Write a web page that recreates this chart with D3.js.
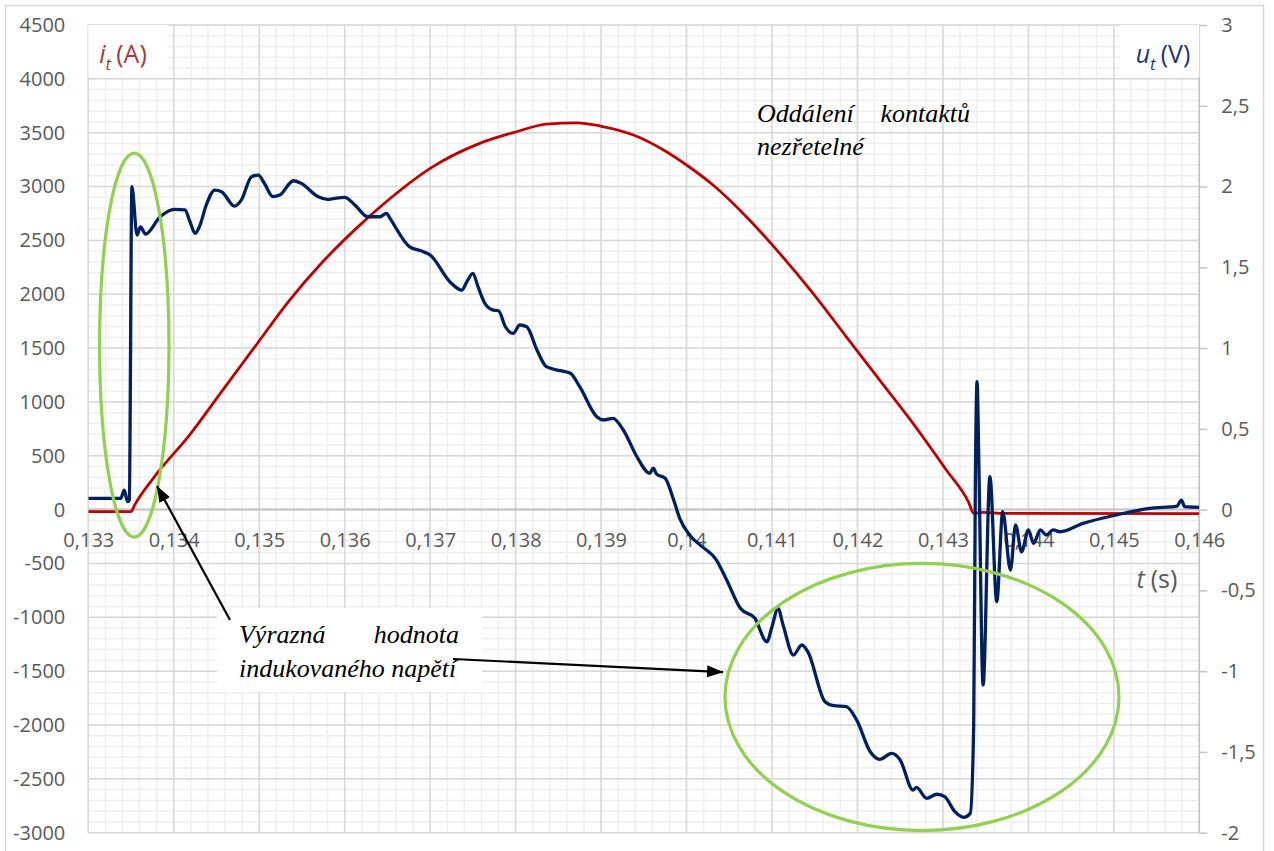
<!DOCTYPE html>
<html><head><meta charset="utf-8">
<script src="https://cdn.jsdelivr.net/npm/d3@7"></script>
<style>body{margin:0;background:#fff} svg{display:block}</style>
</head><body><svg id="c" width="1274" height="851"></svg>
<script>
// ---- data ----
const currentT = [0.13300,0.13350,0.13354,0.13382,0.13417,0.13456,0.13495,0.13534,0.13573,0.13612,0.13651,0.13700,0.13758,0.13801,0.13836,0.13872,0.13899,0.13938,0.13973,0.14000,0.14031,0.14070,0.14109,0.14148,0.14187,0.14226,0.14265,0.14304,0.14330,0.14336,0.14347,0.14367,0.14600];
const currentA = [-19,-19,40,352,677,1095,1513,1930,2290,2600,2875,3169,3401,3509,3580,3592,3562,3478,3339,3200,3014,2720,2380,2008,1605,1203,801,368,70,-34,-25,-34,-38];

const voltageT = [0.13300,0.13338,0.13342,0.13346,0.13348,0.13351,0.13357,0.13361,0.13367,0.13384,
0.13401,0.13413,0.13419,0.13425,0.13430,0.13438,0.13448,0.13456,0.13471,0.13479,
0.13491,0.13499,0.13506,0.13516,0.13524,0.13540,0.13549,0.13569,0.13580,0.13588,
0.13600,0.13612,0.13627,0.13641,0.13649,0.13653,0.13676,0.13692,0.13700,0.13723,
0.13737,0.13743,0.13750,0.13756,0.13764,0.13774,0.13780,0.13788,0.13797,0.13805,
0.13813,0.13825,0.13836,0.13852,0.13864,0.13875,0.13895,0.13903,0.13914,0.13926,
0.13942,0.13957,0.13961,0.13965,0.13975,0.13985,0.13992,0.14004,0.14016,0.14035,
0.14047,0.14063,0.14080,0.14094,0.14100,0.14107,0.14113,0.14125,0.14135,0.14142,
0.14162,0.14172,0.14187,0.14199,0.14215,0.14226,0.14240,0.14250,0.14265,0.14269,
0.14281,0.14293,0.14302,0.14314,0.14324,0.14332,0.14336,0.14338,0.14340,0.14342,
0.14347,0.14355,0.14363,0.14370,0.14379,0.14385,0.14392,0.14400,0.14406,0.14414,
0.14421,0.14429,0.14437,0.14464,0.14503,0.14542,0.14574,0.14579,0.14583,0.14600];
const voltageV = [0.070,0.070,0.121,0.049,0.060,2.000,1.700,1.750,1.706,1.813,
1.859,1.855,1.782,1.710,1.751,1.885,1.978,1.968,1.879,1.916,
2.061,2.071,2.020,1.937,1.947,2.036,2.020,1.937,1.921,1.927,
1.933,1.885,1.813,1.813,1.834,1.803,1.627,1.597,1.576,1.411,
1.359,1.411,1.463,1.380,1.277,1.235,1.231,1.132,1.091,1.143,
1.132,0.988,0.885,0.860,0.844,0.761,0.575,0.555,0.565,0.493,
0.327,0.225,0.256,0.220,0.194,0.059,-0.054,-0.160,-0.220,-0.312,
-0.436,-0.611,-0.673,-0.818,-0.725,-0.611,-0.714,-0.900,-0.838,-0.880,
-1.189,-1.214,-1.220,-1.302,-1.499,-1.546,-1.509,-1.550,-1.736,-1.720,
-1.787,-1.762,-1.777,-1.870,-1.905,-1.880,-1.340,0.200,0.792,0.300,
-1.086,0.204,-0.570,-0.013,-0.374,-0.095,-0.261,-0.126,-0.209,-0.126,
-0.157,-0.126,-0.137,-0.085,-0.033,0.008,0.022,0.059,0.018,0.014];

const xTicks = [0.133,0.134,0.135,0.136,0.137,0.138,0.139,0.140,0.141,0.142,0.143,0.144,0.145,0.146];
const xTickLabels = ["0,133","0,134","0,135","0,136","0,137","0,138","0,139","0,14","0,141","0,142","0,143","0,144","0,145","0,146"];
const leftTicks = [-3000,-2500,-2000,-1500,-1000,-500,0,500,1000,1500,2000,2500,3000,3500,4000,4500];
const rightTicks = [-2,-1.5,-1,-0.5,0,0.5,1,1.5,2,2.5,3];
const rightTickLabels = ["-2","-1,5","-1","-0,5","0","0,5","1","1,5","2","2,5","3"];

// annotations (in data units: t [s], i [A])
const ellipses = [
  {t:0.133538, a:1528, rt:0.000406, ra:1783},
  {t:0.142755, a:-1740, rt:0.002305, ra:1240}
];
const arrows = [
  {t1:0.134658, a1:-1025, t2:0.133804, a2:219},
  {t1:0.137268, a1:-1387, t2:0.140427, a2:-1509}
];
const noteBox = {t1:0.134506, t2:0.137607, a1:-914, a2:-1694};
const noteLines = [
  {words:["Výrazná", "hodnota"], t:0.134763, tEnd:0.137338, a:-1239},
  {words:["indukovaného napětí"], t:0.134763, tEnd:null, a:-1554}
];
const topNoteLines = [
  {words:["Oddálení", "kontaktů"], t:0.140825, tEnd:0.143317, a:3599},
  {words:["nezřetelné"], t:0.140825, tEnd:null, a:3293}
];

// ---- layout ----
const L = 88.3, R = 1199.3, T = 25, B = 832.7;
const svg = d3.select("#c");
const x = d3.scaleLinear([0.133, 0.146], [L, R]);
const yL = d3.scaleLinear([-3000, 4500], [B, T]);
const yR = d3.scaleLinear([-2, 3], [B, T]);

const gray = "#595959";
const sans = "'Open Sans', 'Noto Sans', sans-serif";
const serif = "'Liberation Serif', 'DejaVu Serif', serif";

svg.append("rect").attr("width",1274).attr("height",851).attr("fill","#fff");
svg.append("rect").attr("x",5.5).attr("y",5.5).attr("width",1258).attr("height",870)
  .attr("fill","none").attr("stroke","#d9d9d9").attr("stroke-width",1.5);

// minor grid
const minorX = d3.range(0, 66).map(i => 0.133 + i * 0.0002);
const minorY = d3.range(0, 76).map(i => -3000 + i * 100);
const g = svg.append("g");
g.selectAll(".mx").data(minorX).join("line")
  .attr("x1", d => x(d)).attr("x2", d => x(d)).attr("y1", T).attr("y2", B)
  .attr("stroke", "#efefef").attr("stroke-width", 1.5);
g.selectAll(".my").data(minorY).join("line")
  .attr("y1", d => yL(d)).attr("y2", d => yL(d)).attr("x1", L).attr("x2", R)
  .attr("stroke", "#efefef").attr("stroke-width", 1.5);
// major grid
g.selectAll(".Mx").data(xTicks).join("line")
  .attr("x1", d => x(d)).attr("x2", d => x(d)).attr("y1", T).attr("y2", B)
  .attr("stroke", "#d9d9d9").attr("stroke-width", 1.5);
g.selectAll(".My").data(leftTicks).join("line")
  .attr("y1", d => yL(d)).attr("y2", d => yL(d)).attr("x1", L).attr("x2", R)
  .attr("stroke", "#d9d9d9").attr("stroke-width", 1.5);
// zero axis line
g.append("line").attr("x1", L).attr("x2", R).attr("y1", yL(0)).attr("y2", yL(0))
  .attr("stroke", "#c4c4c4").attr("stroke-width", 2);
// right axis line
g.append("line").attr("x1", R).attr("x2", R).attr("y1", T).attr("y2", B)
  .attr("stroke", "#c4c4c4").attr("stroke-width", 1.5);

// axes
const axL = svg.append("g").attr("transform", `translate(${L},0)`)
  .call(d3.axisLeft(yL).tickValues(leftTicks).tickSize(0).tickPadding(23).tickFormat(d => String(d)));
axL.select(".domain").remove();
axL.selectAll("text").attr("font-family", sans).attr("font-size", 20).attr("fill", gray);

const axR = svg.append("g").attr("transform", `translate(${R},0)`)
  .call(d3.axisRight(yR).tickValues(rightTicks).tickSize(8).tickPadding(14)
    .tickFormat((d, i) => rightTickLabels[i]));
axR.select(".domain").remove();
axR.selectAll("line").attr("stroke", "#c4c4c4").attr("stroke-width", 1.5);
axR.selectAll("text").attr("font-family", sans).attr("font-size", 20).attr("fill", gray);

const axB = svg.append("g").attr("transform", `translate(0,${yL(0)})`)
  .call(d3.axisBottom(x).tickValues(xTicks).tickSize(0).tickPadding(23)
    .tickFormat((d, i) => xTickLabels[i]));
axB.select(".domain").remove();
axB.selectAll("text").attr("font-family", sans).attr("font-size", 20).attr("fill", gray);

// series
svg.append("clipPath").attr("id", "pc").append("rect")
  .attr("x", L).attr("y", T - 5).attr("width", R - L).attr("height", B - T + 10);

const redLine = d3.line().x(d => x(d[0])).y(d => yL(d[1])).curve(d3.curveMonotoneX);
svg.append("path").datum(d3.zip(currentT, currentA))
  .attr("d", redLine).attr("fill", "none").attr("stroke", "#c00000")
  .attr("stroke-width", 2.8).attr("clip-path", "url(#pc)");

const blueLine = d3.line().x(d => x(d[0])).y(d => yR(d[1])).curve(d3.curveMonotoneX);
svg.append("path").datum(d3.zip(voltageT, voltageV))
  .attr("d", blueLine).attr("fill", "none").attr("stroke", "#002060")
  .attr("stroke-width", 3.3).attr("stroke-linejoin", "round").attr("clip-path", "url(#pc)");

// axis titles with white backgrounds
svg.append("rect").attr("x", L).attr("y", T).attr("width", 79).attr("height", 52).attr("fill", "#fff");
const it = svg.append("text").attr("x", L + 11).attr("y", 63).attr("font-family", sans)
  .attr("font-size", 25).attr("fill", "#a53a3a");
it.append("tspan").attr("font-style", "italic").text("i");
it.append("tspan").attr("font-style", "italic").attr("font-size", 17).attr("dy", 7).text("t");
it.append("tspan").attr("dy", -7).attr("dx", 5).text("(A)");

svg.append("rect").attr("x", R - 79).attr("y", T).attr("width", 79).attr("height", 52).attr("fill", "#fff");
const ut = svg.append("text").attr("x", R - 9).attr("y", 63).attr("text-anchor", "end")
  .attr("font-family", sans).attr("font-size", 25).attr("fill", "#1f3864");
ut.append("tspan").attr("font-style", "italic").text("u");
ut.append("tspan").attr("font-style", "italic").attr("font-size", 17).attr("dy", 7).text("t");
ut.append("tspan").attr("dy", -7).attr("dx", 5).text("(V)");

const ts = svg.append("text").attr("x", R - 22).attr("y", 588).attr("text-anchor", "end")
  .attr("font-family", sans).attr("font-size", 25).attr("fill", gray);
ts.append("tspan").attr("font-style", "italic").text("t");
ts.append("tspan").attr("dx", 6).text("(s)");

// ellipses
svg.selectAll(".ell").data(ellipses).join("ellipse")
  .attr("cx", d => x(d.t)).attr("cy", d => yL(d.a))
  .attr("rx", d => x(d.t + d.rt) - x(d.t)).attr("ry", d => yL(0) - yL(d.ra))
  .attr("fill", "none").attr("stroke", "#92d050").attr("stroke-width", 3.2);

// note box
svg.append("rect").attr("x", x(noteBox.t1)).attr("y", yL(noteBox.a1))
  .attr("width", x(noteBox.t2) - x(noteBox.t1)).attr("height", yL(noteBox.a2) - yL(noteBox.a1))
  .attr("fill", "#fff");

// arrows
svg.append("defs").append("marker").attr("id", "ah").attr("markerUnits", "userSpaceOnUse")
  .attr("viewBox", "0 0 16 12").attr("refX", 16).attr("refY", 6)
  .attr("markerWidth", 16).attr("markerHeight", 12).attr("orient", "auto")
  .append("path").attr("d", "M0,0 L16,6 L0,12 Z").attr("fill", "#000");
svg.selectAll(".arr").data(arrows).join("line")
  .attr("x1", d => x(d.t1)).attr("y1", d => yL(d.a1))
  .attr("x2", d => x(d.t2)).attr("y2", d => yL(d.a2))
  .attr("stroke", "#000").attr("stroke-width", 2.2).attr("marker-end", "url(#ah)");

// annotation texts (justified lines: first word left, last word right)
function drawLines(lines) {
  lines.forEach(l => {
    const base = { "font-family": serif, "font-style": "italic", "font-size": 26, "fill": "#000" };
    const t1 = svg.append("text").attr("x", x(l.t)).attr("y", yL(l.a)).text(l.words[0]);
    Object.entries(base).forEach(([k, v]) => t1.attr(k, v));
    if (l.words.length > 1) {
      const t2 = svg.append("text").attr("x", x(l.tEnd)).attr("y", yL(l.a))
        .attr("text-anchor", "end").text(l.words[1]);
      Object.entries(base).forEach(([k, v]) => t2.attr(k, v));
    }
  });
}
drawLines(noteLines);
drawLines(topNoteLines);
</script></body></html>
